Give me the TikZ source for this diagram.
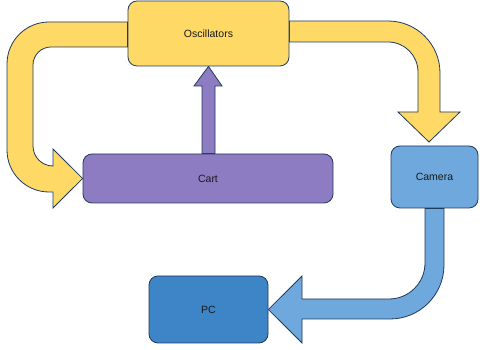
\documentclass[tikz,border=0pt]{standalone}
\usepackage{fontspec}
\setmainfont{Liberation Sans}
\usetikzlibrary{backgrounds}
\definecolor{edgec}{RGB}{31,58,95}
\definecolor{yel}{RGB}{255,217,102}
\definecolor{pur}{RGB}{142,124,195}
\definecolor{lblue}{RGB}{111,168,220}
\definecolor{dblue}{RGB}{61,133,198}
\definecolor{txt}{RGB}{25,25,25}
\begin{document}
\begin{tikzpicture}[x=1pt,y=1pt,
  box/.style={draw=edgec,line width=0.8pt,rounded corners=9pt,minimum width=#1,inner sep=0pt,
    font=\fontsize{10.5}{12}\selectfont,text=txt},
  fatarrow/.style={draw=edgec,line width=0.8pt,line join=miter}]
\useasboundingbox (0,0) rectangle (480,350);
\node[box, fill=yel, minimum width=161pt, minimum height=65pt] (osc) at (208.5,316.5) {Oscillators};
\node[box, fill=pur, minimum width=250pt, minimum height=49pt] (cart) at (208,171.5) {Cart};
\node[box, fill=lblue, minimum width=87pt, minimum height=62pt] (cam) at (434.5,173) {Camera};
\node[box, fill=dblue, minimum width=119pt, minimum height=67pt] (pc) at (208.5,40.5) {PC};
\begin{scope}[on background layer]
% cart -> oscillators
\filldraw[fatarrow, fill=pur] (cart.north -| 202,0) -- (202,264) -- (194,264) -- (osc.south) -- (222,264) -- (215,264) -- (cart.north -| 215,0) -- cycle;
% oscillators -> cart
\filldraw[fatarrow, fill=yel] (osc.west |- 0,328) -- (49,328) arc[start angle=90,end angle=180,radius=42]
  -- (7,200) arc[start angle=180,end angle=270,radius=42] -- (53,158) -- (53,142) -- (cart.west)
  -- (53,201) -- (53,184) arc[start angle=270,end angle=180,radius=20]
  -- (33,285) arc[start angle=180,end angle=90,radius=18] -- (osc.west |- 0,303) -- cycle;
% oscillators -> camera
\coordinate (camtip) at (429,208);
\filldraw[fatarrow, fill=yel] (osc.east |- 0,329) -- (388,329) arc[start angle=90,end angle=0,radius=52]
  -- (440,238) -- (460,238) -- (camtip) -- (398,238) -- (418,238)
  -- (418,278) arc[start angle=0,end angle=90,radius=30] -- (osc.east |- 0,308) -- cycle;
% camera -> pc
\filldraw[fatarrow, fill=lblue] (cam.south -| 444,0) -- (444,85) arc[start angle=0,end angle=-90,radius=54]
  -- (302,31) -- (302,7) -- (pc.east) -- (302,74) -- (302,51)
  -- (389,51) arc[start angle=-90,end angle=0,radius=36] -- (cam.south -| 425,0) -- cycle;
\end{scope}
\end{tikzpicture}
\end{document}
